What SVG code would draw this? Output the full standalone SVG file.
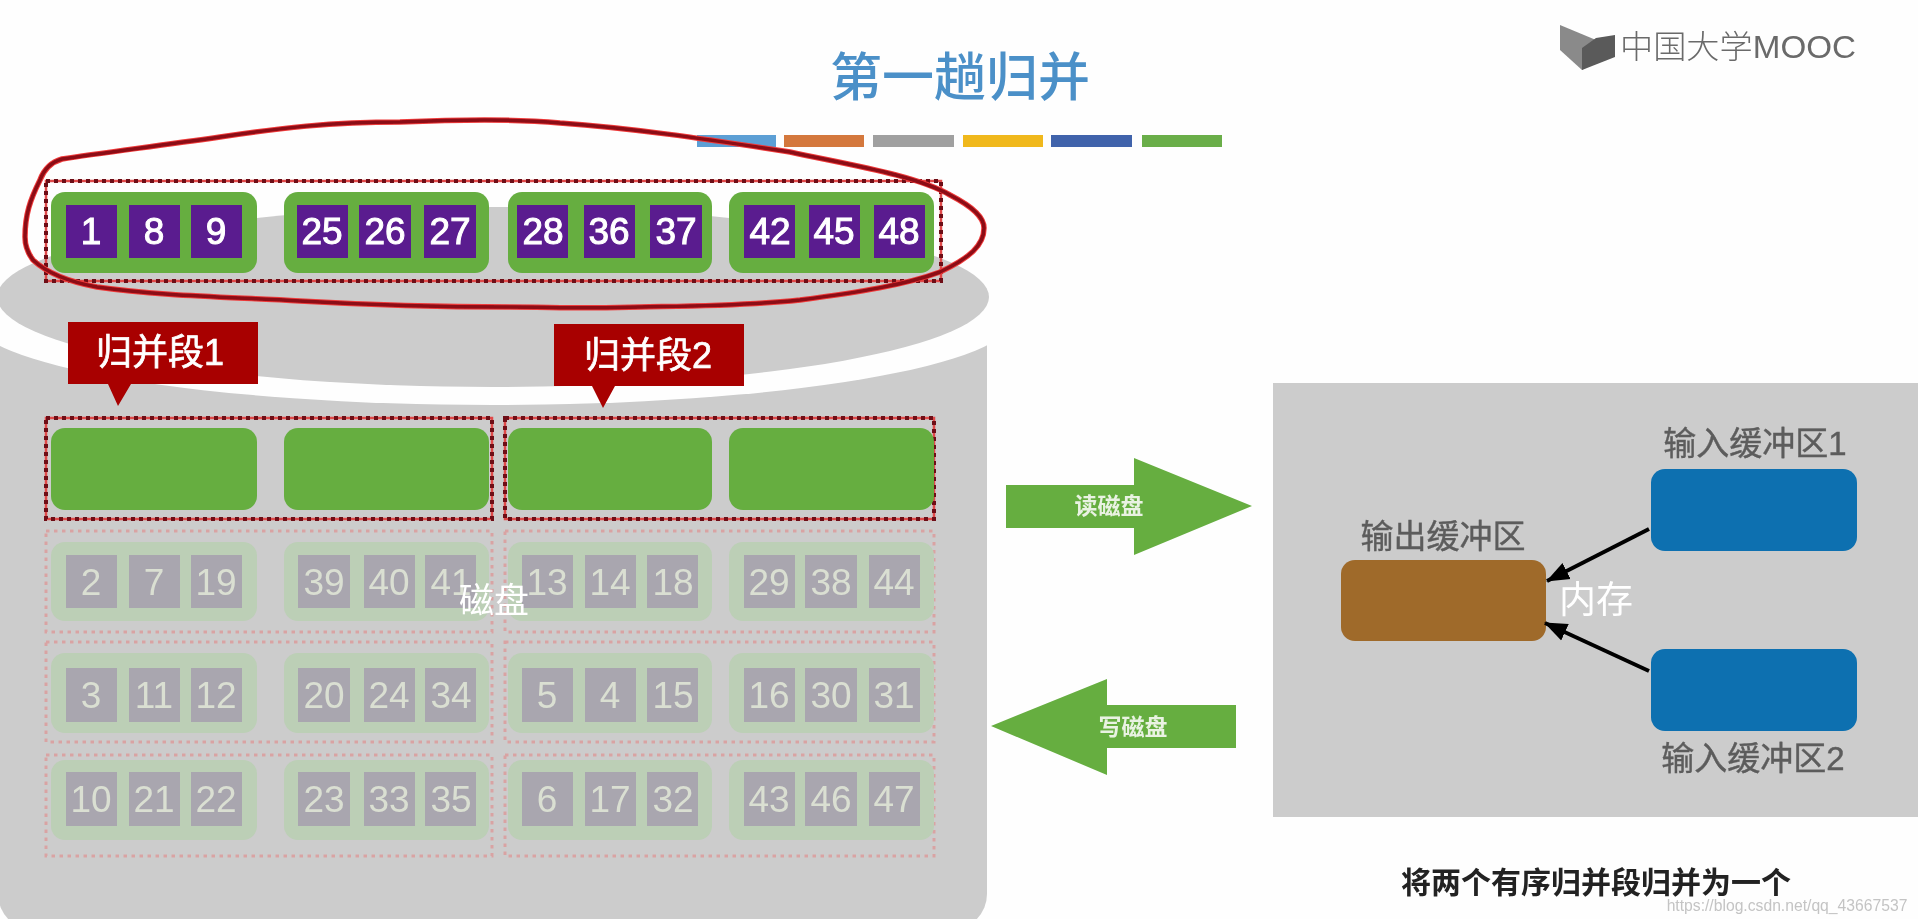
<svg xmlns="http://www.w3.org/2000/svg" width="1918" height="919" viewBox="0 0 1918 919">
<style>
text{font-family:"Liberation Sans","Noto Sans CJK SC",sans-serif;text-anchor:middle;dominant-baseline:central}
.blk{fill:#66ae41}
.pblk{fill:#bccfb6}
.c{fill:#5a1a8f}
.pc{fill:#a9a6af}
.n{font-size:37px;fill:#fff;stroke:#fff;stroke-width:1}
.pn{font-size:37px;fill:#dadfd2}
.dot{fill:none;stroke:#e04848;stroke-width:2.5}
.dot2{fill:none;stroke:#6e0a14;stroke-width:4;stroke-dasharray:4 4}
.pdot{fill:none;stroke:#d9a3a3;stroke-width:3;stroke-dasharray:3.5 4.5}
.lab{font-size:33px;fill:#5c5c5c;stroke:#5c5c5c;stroke-width:.4}
.arrowtxt{font-size:23px;font-weight:700;fill:#e9f2e2}
.call{fill:#a80000}
.callt{font-size:36px;fill:#fff;stroke:#fff;stroke-width:.7}
.buf{fill:#0a6fb0}
.conn{fill:none;stroke:#000;stroke-width:4}
</style>
<defs>
<filter id="soft" x="-2%" y="-2%" width="104%" height="104%"><feGaussianBlur stdDeviation="0.7"/></filter>
<marker id="ah" markerUnits="userSpaceOnUse" markerWidth="24" markerHeight="20" refX="22" refY="10" orient="auto"><path d="M0,1 L23,10 L0,19 Z" fill="#000"/></marker>
<path id="hand" d="M62,159 C100,153 150,147 220,137 C280,128 330,122 400,122 C470,119 520,119 560,123 C630,128 700,138 790,152 C850,165 915,175 950,195 C975,208 984,218 984,228 C984,245 970,258 940,272 C905,285 860,292 800,300 C740,306 690,306 640,307 C590,309 550,307 510,307 C430,307 370,305 300,301 C230,297 160,296 97,287 C70,282 48,274 33,260 C27,252 25,245 25,237 C25,215 30,200 40,180 C43,172 48,163 62,159 Z" fill="none"/>
</defs>
<rect width="1918" height="919" fill="#fefefe"/>
<g filter="url(#soft)">
<g id="disk">
<path d="M-2,330 H987 V894 A36,36 0 0 1 951,930 H34 A36,36 0 0 1 -2,894 Z" fill="#cccccc"/>
<ellipse cx="493" cy="317" rx="522" ry="88" fill="#fefefe"/>
<ellipse cx="493" cy="297" rx="496" ry="90" fill="#cccccc"/>
</g>
<g id="title">
<text x="960" y="78" font-size="52" font-weight="500" fill="#4c90c8">第一趟归并</text>
<rect x="697" y="135" width="79" height="12" fill="#5b9fd5"/>
<rect x="784" y="135" width="80" height="12" fill="#d4783c"/>
<rect x="873" y="135" width="81" height="12" fill="#a0a0a0"/>
<rect x="963" y="135" width="80" height="12" fill="#f0b81c"/>
<rect x="1051" y="135" width="81" height="12" fill="#3f63ab"/>
<rect x="1142" y="135" width="80" height="12" fill="#6aae4a"/>
</g>
<g id="logo">
<polygon points="1560,25 1596,40 1596,62 1582,70 1560,50" fill="#8a8a8a"/>
<polygon points="1582,48 1596,38 1615,35 1615,57 1582,70" fill="#5a5a5a"/>
<text x="1738" y="47" font-size="32" font-weight="300" fill="#6a6a6a" textLength="236" lengthAdjust="spacingAndGlyphs">中国大学MOOC</text>
</g>
<g id="row-sorted">
<rect class="dot" x="46" y="181" width="895" height="100"/>
<rect class="dot2" x="46" y="181" width="895" height="100"/>
<rect class="blk" x="51" y="192" width="206" height="81" rx="14"/>
<rect class="blk" x="284" y="192" width="205" height="81" rx="14"/>
<rect class="blk" x="508" y="192" width="204" height="81" rx="14"/>
<rect class="blk" x="729" y="192" width="205" height="81" rx="14"/>
<rect class="c" x="66" y="205" width="51" height="53"/><text class="n" x="91" y="231">1</text>
<rect class="c" x="129" y="205" width="51" height="53"/><text class="n" x="154" y="231">8</text>
<rect class="c" x="191" y="205" width="51" height="53"/><text class="n" x="216" y="231">9</text>
<rect class="c" x="297" y="205" width="51" height="53"/><text class="n" x="322" y="231">25</text>
<rect class="c" x="359" y="205" width="52" height="53"/><text class="n" x="385" y="231">26</text>
<rect class="c" x="424" y="205" width="52" height="53"/><text class="n" x="450" y="231">27</text>
<rect class="c" x="517" y="205" width="51" height="53"/><text class="n" x="543" y="231">28</text>
<rect class="c" x="584" y="205" width="51" height="53"/><text class="n" x="609" y="231">36</text>
<rect class="c" x="650" y="205" width="52" height="53"/><text class="n" x="676" y="231">37</text>
<rect class="c" x="744" y="205" width="51" height="53"/><text class="n" x="770" y="231">42</text>
<rect class="c" x="809" y="205" width="51" height="53"/><text class="n" x="834" y="231">45</text>
<rect class="c" x="874" y="205" width="51" height="53"/><text class="n" x="899" y="231">48</text>
</g>
<g id="callout-1">
<path class="call" d="M68,322 H258 V384 H131 L118,406 L108,384 H68 Z"/>
<text class="callt" x="160" y="352">归并段1</text>
</g>
<g id="callout-2">
<path class="call" d="M554,324 H744 V386 H615 L603,408 L592,386 H554 Z"/>
<text class="callt" x="648" y="355">归并段2</text>
</g>
<g id="row-empty">
<rect class="dot" x="46" y="418" width="446" height="101"/>
<rect class="dot" x="505" y="418" width="429" height="101"/>
<rect class="dot2" x="46" y="418" width="446" height="101"/>
<rect class="dot2" x="505" y="418" width="429" height="101"/>
<rect class="blk" x="51" y="428" width="206" height="82" rx="14"/>
<rect class="blk" x="284" y="428" width="205" height="82" rx="14"/>
<rect class="blk" x="508" y="428" width="204" height="82" rx="14"/>
<rect class="blk" x="729" y="428" width="205" height="82" rx="14"/>
</g>
<g id="row-3">
<rect class="pdot" x="46" y="531" width="446" height="101"/><rect class="pdot" x="505" y="531" width="429" height="101"/>
<rect class="pblk" x="51" y="542" width="206" height="79" rx="14"/><rect class="pblk" x="284" y="542" width="205" height="79" rx="14"/><rect class="pblk" x="508" y="542" width="204" height="79" rx="14"/><rect class="pblk" x="729" y="542" width="205" height="79" rx="14"/>
<rect class="pc" x="66" y="555" width="51" height="53"/><text class="pn" x="91" y="582">2</text>
<rect class="pc" x="129" y="555" width="51" height="53"/><text class="pn" x="154" y="582">7</text>
<rect class="pc" x="191" y="555" width="51" height="53"/><text class="pn" x="216" y="582">19</text>
<rect class="pc" x="298" y="555" width="52" height="53"/><text class="pn" x="324" y="582">39</text>
<rect class="pc" x="364" y="555" width="51" height="53"/><text class="pn" x="389" y="582">40</text>
<rect class="pc" x="425" y="555" width="51" height="53"/><text class="pn" x="451" y="582">41</text>
<rect class="pc" x="522" y="555" width="51" height="53"/><text class="pn" x="547" y="582">13</text>
<rect class="pc" x="585" y="555" width="51" height="53"/><text class="pn" x="610" y="582">14</text>
<rect class="pc" x="647" y="555" width="51" height="53"/><text class="pn" x="673" y="582">18</text>
<rect class="pc" x="744" y="555" width="51" height="53"/><text class="pn" x="769" y="582">29</text>
<rect class="pc" x="805" y="555" width="52" height="53"/><text class="pn" x="831" y="582">38</text>
<rect class="pc" x="869" y="555" width="51" height="53"/><text class="pn" x="894" y="582">44</text>
</g>
<g id="row-4">
<rect class="pdot" x="46" y="642" width="446" height="100"/><rect class="pdot" x="505" y="642" width="429" height="100"/>
<rect class="pblk" x="51" y="653" width="206" height="80" rx="14"/><rect class="pblk" x="284" y="653" width="205" height="80" rx="14"/><rect class="pblk" x="508" y="653" width="204" height="80" rx="14"/><rect class="pblk" x="729" y="653" width="205" height="80" rx="14"/>
<rect class="pc" x="66" y="668" width="51" height="54"/><text class="pn" x="91" y="695">3</text>
<rect class="pc" x="129" y="668" width="51" height="54"/><text class="pn" x="154" y="695">11</text>
<rect class="pc" x="191" y="668" width="51" height="54"/><text class="pn" x="216" y="695">12</text>
<rect class="pc" x="298" y="668" width="52" height="54"/><text class="pn" x="324" y="695">20</text>
<rect class="pc" x="364" y="668" width="51" height="54"/><text class="pn" x="389" y="695">24</text>
<rect class="pc" x="425" y="668" width="51" height="54"/><text class="pn" x="451" y="695">34</text>
<rect class="pc" x="522" y="668" width="51" height="54"/><text class="pn" x="547" y="695">5</text>
<rect class="pc" x="585" y="668" width="51" height="54"/><text class="pn" x="610" y="695">4</text>
<rect class="pc" x="647" y="668" width="51" height="54"/><text class="pn" x="673" y="695">15</text>
<rect class="pc" x="744" y="668" width="51" height="54"/><text class="pn" x="769" y="695">16</text>
<rect class="pc" x="805" y="668" width="52" height="54"/><text class="pn" x="831" y="695">30</text>
<rect class="pc" x="869" y="668" width="51" height="54"/><text class="pn" x="894" y="695">31</text>
</g>
<g id="row-5">
<rect class="pdot" x="46" y="755" width="446" height="101"/><rect class="pdot" x="505" y="755" width="429" height="101"/>
<rect class="pblk" x="51" y="760" width="206" height="80" rx="14"/><rect class="pblk" x="284" y="760" width="205" height="80" rx="14"/><rect class="pblk" x="508" y="760" width="204" height="80" rx="14"/><rect class="pblk" x="729" y="760" width="205" height="80" rx="14"/>
<rect class="pc" x="66" y="772" width="51" height="54"/><text class="pn" x="91" y="799">10</text>
<rect class="pc" x="129" y="772" width="51" height="54"/><text class="pn" x="154" y="799">21</text>
<rect class="pc" x="191" y="772" width="51" height="54"/><text class="pn" x="216" y="799">22</text>
<rect class="pc" x="298" y="772" width="52" height="54"/><text class="pn" x="324" y="799">23</text>
<rect class="pc" x="364" y="772" width="51" height="54"/><text class="pn" x="389" y="799">33</text>
<rect class="pc" x="425" y="772" width="51" height="54"/><text class="pn" x="451" y="799">35</text>
<rect class="pc" x="522" y="772" width="51" height="54"/><text class="pn" x="547" y="799">6</text>
<rect class="pc" x="585" y="772" width="51" height="54"/><text class="pn" x="610" y="799">17</text>
<rect class="pc" x="647" y="772" width="51" height="54"/><text class="pn" x="673" y="799">32</text>
<rect class="pc" x="744" y="772" width="51" height="54"/><text class="pn" x="769" y="799">43</text>
<rect class="pc" x="805" y="772" width="52" height="54"/><text class="pn" x="831" y="799">46</text>
<rect class="pc" x="869" y="772" width="51" height="54"/><text class="pn" x="894" y="799">47</text>
</g>
<g id="disk-label"><text x="494" y="600" font-size="35" fill="#fff">磁盘</text></g>
<g id="hand-circle">
<use href="#hand" stroke="#ee3a3a" stroke-width="5.5"/>
<use href="#hand" stroke="#8c0a14" stroke-width="3.5"/>
</g>
<g id="arrow-read">
<polygon points="1006,485 1134,485 1134,458 1252,506 1134,555 1134,528 1006,528" fill="#66ae41"/>
<text class="arrowtxt" x="1109" y="506">读磁盘</text>
</g>
<g id="arrow-write">
<polygon points="1236,705 1107,705 1107,679 991,726 1107,775 1107,748 1236,748" fill="#66ae41"/>
<text class="arrowtxt" x="1133" y="727">写磁盘</text>
</g>
<g id="memory">
<rect x="1273" y="383" width="645" height="434" fill="#cccccc"/>
<text x="1596" y="600" font-size="37" fill="#fff">内存</text>
</g>
<g id="input-buffer-1">
<rect class="buf" x="1651" y="469" width="206" height="82" rx="14"/>
<text class="lab" x="1755" y="443">输入缓冲区1</text>
</g>
<g id="input-buffer-2">
<rect class="buf" x="1651" y="649" width="206" height="82" rx="14"/>
<text class="lab" x="1753" y="758">输入缓冲区2</text>
</g>
<g id="output-buffer">
<rect x="1341" y="560" width="205" height="81" rx="14" fill="#9f6a2b"/>
<text class="lab" x="1443" y="536">输出缓冲区</text>
</g>
<g id="connectors">
<line class="conn" x1="1649" y1="529" x2="1547" y2="581" marker-end="url(#ah)"/>
<line class="conn" x1="1649" y1="671" x2="1545" y2="623" marker-end="url(#ah)"/>
</g>
<g id="caption">
<text x="1596" y="882" font-size="30" font-weight="700" fill="#222">将两个有序归并段归并为一个</text>
<text x="1787" y="905" font-size="15.7" fill="#c4c4c4">https://blog.csdn.net/qq_43667537</text>
</g>
</g>
</svg>
